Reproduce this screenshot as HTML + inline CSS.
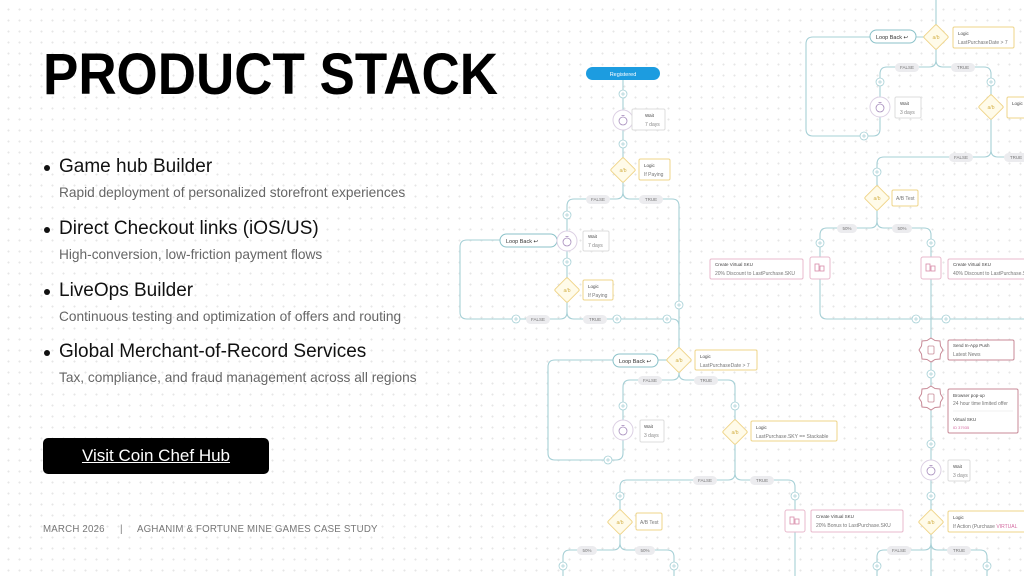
<!DOCTYPE html>
<html><head><meta charset="utf-8"><style>
*{margin:0;padding:0;box-sizing:border-box}
html,body{width:1024px;height:576px;overflow:hidden;background:#fff}
body{position:relative;font-family:"Liberation Sans",sans-serif;
background-image:radial-gradient(circle,#e6e6e6 0.8px,transparent 1.2px);background-size:11px 11px;background-position:3px 4px}
.t{position:absolute;left:43px;top:43px;font-size:58px;font-weight:bold;color:#000;transform:scaleX(0.913);transform-origin:left top;line-height:64px}
.it{position:absolute;left:44px}
.it .h{font-size:19px;color:#111;position:relative;padding-left:15px;line-height:22px}
.it .h:before{content:"";position:absolute;left:0;top:9px;width:6px;height:6px;border-radius:50%;background:#111}
.it .s{font-size:13.7px;color:#666;padding-left:15px;margin-top:7px}
.btn{position:absolute;left:43px;top:438px;width:226px;height:36px;background:#000;border-radius:5px;color:#fff;font-size:17px;text-align:center;line-height:36px;text-decoration:underline}
.ft{position:absolute;top:524px;font-size:9.7px;color:#777;letter-spacing:0.2px}
svg{position:absolute;left:0;top:0}
svg text{font-family:"Liberation Sans",sans-serif}
</style></head><body>
<div class="t">PRODUCT STACK</div>
<div class="it" style="top:156px"><div class="h">Game hub Builder</div><div class="s">Rapid deployment of personalized storefront experiences</div></div>
<div class="it" style="top:218px"><div class="h">Direct Checkout links (iOS/US)</div><div class="s">High-conversion, low-friction payment flows</div></div>
<div class="it" style="top:280px"><div class="h">LiveOps Builder</div><div class="s">Continuous testing and optimization of offers and routing</div></div>
<div class="it" style="top:341px"><div class="h">Global Merchant-of-Record Services</div><div class="s">Tax, compliance, and fraud management across all regions</div></div>
<div class="btn">Visit Coin Chef Hub</div>
<div class="ft" style="left:43px">MARCH 2026</div>
<div class="ft" style="left:120px">|</div>
<div class="ft" style="left:137px">AGHANIM &amp; FORTUNE MINE GAMES CASE STUDY</div>

<svg width="1024" height="576" viewBox="0 0 1024 576">
<defs>
<g id="pl"><circle r="4" fill="#fff" stroke="#a6d0d6" stroke-width="0.8"/><path d="M-2 0H2M0 -2V2" stroke="#a6d0d6" stroke-width="0.7"/></g>
<g id="dm"><rect x="-9" y="-9" width="18" height="18" transform="rotate(45)" rx="1.5" fill="#fffbe9" stroke="#efd58a" stroke-width="1"/><text y="2" font-size="5" text-anchor="middle" fill="#d4b24a">a/b</text></g>
<g id="wc"><circle r="10" fill="#fff" stroke="#dcd0e4" stroke-width="1"/><circle r="4" cy="1" fill="none" stroke="#a58bbb" stroke-width="0.8"/><path d="M-1.5 -4.5H1.5" stroke="#a58bbb" stroke-width="0.8"/></g>
<g id="sk"><rect x="-10" y="-11" width="20" height="22" rx="2" fill="#fff" stroke="#e8b9cc"/><rect x="-5" y="-4" width="4" height="7" fill="none" stroke="#d78aa8" stroke-width="0.8"/><rect x="0" y="-2" width="4" height="5" fill="none" stroke="#d78aa8" stroke-width="0.8"/></g>
<g id="gr"><path d="M0-12L4-9.5L9-9L9.5-4L12 0L9.5 4L9 9L4 9.5L0 12L-4 9.5L-9 9L-9.5 4L-12 0L-9.5-4L-9-9L-4-9.5Z" fill="#fff" stroke="#c88a97" stroke-width="1"/><rect x="-3" y="-4" width="6" height="8" rx="1" fill="none" stroke="#c88a97" stroke-width="0.8"/></g>
</defs>
<g fill="none" stroke="#a6d0d6" stroke-width="1.1">
<path d="M623 80V160M623 180V192Q623 199 616 199H574Q567 199 567 206V280M567 300V312Q567 319 560 319H467Q460 319 460 312V247Q460 240 467 240H500"/>
<path d="M623 192Q623 199 630 199H672Q679 199 679 206V350"/>
<path d="M567 312Q567 319 574 319H672Q679 319 679 326"/>
<path d="M679 370V373Q679 380 672 380H630Q623 380 623 387V453Q623 460 616 460H555Q548 460 548 453V367Q548 360 555 360H613"/>
<path d="M658 360H670"/>
<path d="M679 373Q679 380 686 380H728Q735 380 735 387V473Q735 480 728 480H627Q620 480 620 487V512M620 532V543Q620 550 613 550H570Q563 550 563 557V576M620 543Q620 550 627 550H667Q674 550 674 557V576"/>
<path d="M735 473Q735 480 742 480H788Q795 480 795 487V576"/>
<path d="M936 0V27M936 47V60Q936 67 929 67H887Q880 67 880 74V129Q880 136 873 136H813Q806 136 806 129V44Q806 37 813 37H870M916 37H926"/>
<path d="M936 60Q936 67 943 67H984Q991 67 991 74V150Q991 157 984 157H884Q877 157 877 164V190M877 208V221Q877 228 870 228H827Q820 228 820 235V312Q820 319 827 319H1024"/>
<path d="M991 150Q991 157 998 157H1024"/>
<path d="M877 221Q877 228 884 228H924Q931 228 931 235V576"/>
<path d="M931 543Q931 550 924 550H884Q877 550 877 557V576M931 543Q931 550 938 550H980Q987 550 987 557V576"/>
</g>
<g fill="#ececef"><rect x="586" y="195" width="24" height="9" rx="4.5"/><rect x="639" y="195" width="24" height="9" rx="4.5"/>
<rect x="526" y="315" width="24" height="9" rx="4.5"/><rect x="583" y="315" width="24" height="9" rx="4.5"/>
<rect x="638" y="376" width="24" height="9" rx="4.5"/><rect x="694" y="376" width="24" height="9" rx="4.5"/>
<rect x="693" y="476" width="24" height="9" rx="4.5"/><rect x="750" y="476" width="24" height="9" rx="4.5"/>
<rect x="577" y="546" width="20" height="9" rx="4.5"/><rect x="635" y="546" width="20" height="9" rx="4.5"/>
<rect x="895" y="63" width="24" height="9" rx="4.5"/><rect x="951" y="63" width="24" height="9" rx="4.5"/>
<rect x="949" y="153" width="24" height="9" rx="4.5"/><rect x="1004" y="153" width="24" height="9" rx="4.5"/>
<rect x="837" y="224" width="20" height="9" rx="4.5"/><rect x="892" y="224" width="20" height="9" rx="4.5"/>
<rect x="887" y="546" width="24" height="9" rx="4.5"/><rect x="947" y="546" width="24" height="9" rx="4.5"/></g>
<g font-size="4.5" fill="#777" text-anchor="middle">
<text x="598" y="201">FALSE</text><text x="651" y="201">TRUE</text>
<text x="538" y="321">FALSE</text><text x="595" y="321">TRUE</text>
<text x="650" y="382">FALSE</text><text x="706" y="382">TRUE</text>
<text x="705" y="482">FALSE</text><text x="762" y="482">TRUE</text>
<text x="587" y="552">50%</text><text x="645" y="552">50%</text>
<text x="907" y="69">FALSE</text><text x="963" y="69">TRUE</text>
<text x="961" y="159">FALSE</text><text x="1016" y="159">TRUE</text>
<text x="847" y="230">50%</text><text x="902" y="230">50%</text>
<text x="899" y="552">FALSE</text><text x="959" y="552">TRUE</text></g>
<use href="#pl" x="623" y="94"/><use href="#pl" x="623" y="144"/><use href="#pl" x="567" y="215"/><use href="#pl" x="567" y="262"/>
<use href="#pl" x="516" y="319"/><use href="#pl" x="617" y="319"/><use href="#pl" x="667" y="319"/><use href="#pl" x="679" y="305"/>
<use href="#pl" x="623" y="406"/><use href="#pl" x="735" y="406"/><use href="#pl" x="608" y="460"/>
<use href="#pl" x="620" y="496"/><use href="#pl" x="795" y="496"/><use href="#pl" x="563" y="566"/><use href="#pl" x="674" y="566"/>
<use href="#pl" x="880" y="82"/><use href="#pl" x="991" y="82"/><use href="#pl" x="864" y="136"/><use href="#pl" x="877" y="172"/>
<use href="#pl" x="820" y="243"/><use href="#pl" x="931" y="243"/><use href="#pl" x="916" y="319"/><use href="#pl" x="946" y="319"/>
<use href="#pl" x="931" y="374"/><use href="#pl" x="931" y="444"/><use href="#pl" x="931" y="496"/><use href="#pl" x="877" y="566"/><use href="#pl" x="987" y="566"/>
<rect x="586" y="67" width="74" height="13" rx="6.5" fill="#1c9ce0"/>
<text x="623" y="76" font-size="5.5" fill="#fff" text-anchor="middle">Registered</text>
<g fill="#fff" stroke="#8bc2c9" stroke-width="1"><rect x="500" y="234" width="57" height="13" rx="6.5"/><rect x="613" y="354" width="45" height="13" rx="6.5"/><rect x="870" y="30" width="46" height="13" rx="6.5"/></g>
<g font-size="5.5" fill="#333"><text x="506" y="243">Loop Back ↩</text><text x="619" y="363">Loop Back ↩</text><text x="876" y="39">Loop Back ↩</text></g>
<use href="#wc" x="623" y="120"/><use href="#wc" x="567" y="241"/><use href="#wc" x="623" y="430"/><use href="#wc" x="880" y="107"/><use href="#wc" x="931" y="470"/>
<g fill="#fff" stroke="#ddd" stroke-width="1"><rect x="632" y="109" width="33" height="21" rx="1.5"/><rect x="583" y="231" width="26" height="20" rx="1.5"/><rect x="640" y="420" width="24" height="22" rx="1.5"/><rect x="895" y="97" width="26" height="21" rx="1.5"/><rect x="948" y="460" width="22" height="21" rx="1.5"/></g>
<g font-size="4.5" fill="#444"><text x="645" y="117">Wait</text><text x="588" y="238">Wait</text><text x="644" y="428">Wait</text><text x="900" y="105">Wait</text><text x="953" y="468">Wait</text></g>
<g font-size="5" fill="#888"><text x="645" y="126">7 days</text><text x="588" y="247">7 days</text><text x="644" y="437">3 days</text><text x="900" y="114">3 days</text><text x="953" y="477">3 days</text></g>
<use href="#dm" x="623" y="170"/><use href="#dm" x="567" y="290"/><use href="#dm" x="679" y="360"/><use href="#dm" x="735" y="432"/><use href="#dm" x="620" y="522"/>
<use href="#dm" x="936" y="37"/><use href="#dm" x="991" y="107"/><use href="#dm" x="877" y="198"/><use href="#dm" x="931" y="522"/>
<g fill="#fff" stroke="#efd58a" stroke-width="1"><rect x="639" y="159" width="31" height="21" rx="1.5"/><rect x="583" y="280" width="30" height="20" rx="1.5"/><rect x="695" y="350" width="62" height="20" rx="1.5"/><rect x="751" y="421" width="86" height="20" rx="1.5"/><rect x="636" y="513" width="26" height="17" rx="1.5"/>
<rect x="953" y="27" width="61" height="21" rx="1.5"/><rect x="1007" y="97" width="30" height="21" rx="1.5"/><rect x="892" y="190" width="26" height="16" rx="1.5"/><rect x="948" y="511" width="80" height="21" rx="1.5"/></g>
<g font-size="4.5" fill="#444"><text x="644" y="167">Logic</text><text x="588" y="288">Logic</text><text x="700" y="358">Logic</text><text x="756" y="429">Logic</text><text x="958" y="35">Logic</text><text x="1012" y="105">Logic</text><text x="953" y="519">Logic</text></g>
<g font-size="5" fill="#777"><text x="644" y="176">If Paying</text><text x="588" y="297">If Paying</text><text x="700" y="367">LastPurchaseDate &gt; 7</text><text x="756" y="438">LastPurchase.SKY == Stackable</text><text x="958" y="44">LastPurchaseDate &gt; 7</text><text x="953" y="528">If Action (Purchase <tspan fill="#d46aa0">VIRTUAL</tspan></text>
<text x="640" y="524">A/B Test</text><text x="896" y="200">A/B Test</text></g>
<use href="#sk" x="795" y="521"/><use href="#sk" x="820" y="268"/><use href="#sk" x="931" y="268"/>
<g fill="#fff" stroke="#e8b9cc" stroke-width="1"><rect x="811" y="510" width="92" height="22" rx="1.5"/><rect x="710" y="259" width="93" height="20" rx="1.5"/><rect x="948" y="259" width="80" height="20" rx="1.5"/></g>
<g font-size="4.5" fill="#444"><text x="816" y="518">Create Virtual SKU</text><text x="715" y="266">Create Virtual SKU</text><text x="953" y="266">Create Virtual SKU</text></g>
<g font-size="5" fill="#777"><text x="816" y="527">20% Bonus to LastPurchase.SKU</text><text x="715" y="275">20% Discount to LastPurchase.SKU</text><text x="953" y="275">40% Discount to LastPurchase.SKU</text></g>
<use href="#gr" x="931" y="350"/><use href="#gr" x="931" y="398"/>
<g fill="#fff" stroke="#c88a97" stroke-width="1"><rect x="948" y="340" width="66" height="20" rx="1.5"/><rect x="948" y="389" width="70" height="44" rx="1.5"/></g>
<g font-size="4.5" fill="#444"><text x="953" y="347">Send In-App Push</text><text x="953" y="397">Browser pop-up</text><text x="953" y="421">Virtual SKU</text></g>
<g font-size="5" fill="#777"><text x="953" y="356">Latest News</text><text x="953" y="405">24 hour time limited offer</text></g>
<path d="M953 411H1013" stroke="#eee" stroke-width="0.8"/>
<text x="953" y="429" font-size="4" fill="#d46aa0">ID 37935</text>
</svg>
</body></html>
